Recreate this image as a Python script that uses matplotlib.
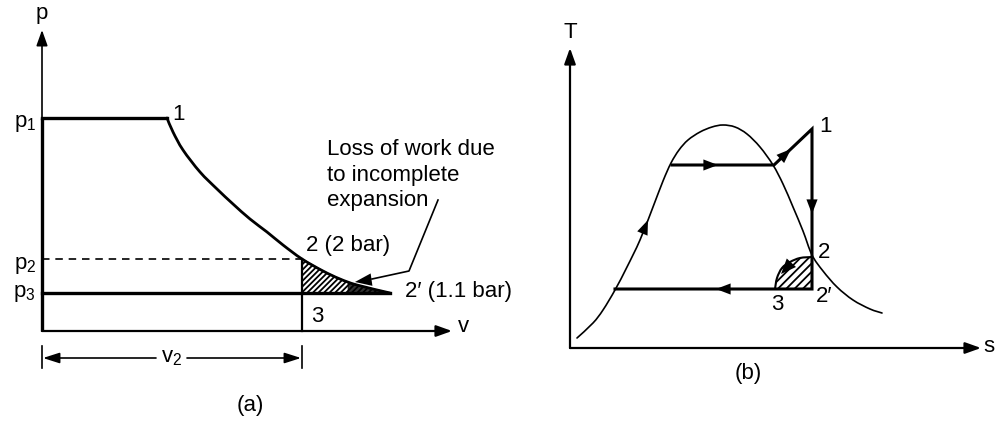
import matplotlib
matplotlib.use("Agg")
import matplotlib.pyplot as plt
from matplotlib.patches import Polygon, PathPatch
from matplotlib.path import Path

plt.rcParams['font.family'] = ['Liberation Sans', 'DejaVu Sans']
plt.rcParams['mathtext.fontset'] = 'custom'
plt.rcParams['mathtext.rm'] = 'Liberation Sans'
plt.rcParams['mathtext.it'] = 'Liberation Sans'
plt.rcParams['hatch.linewidth'] = 1.3

FS = 16

# ---------------- (a) p-v diagram, drawing units ----------------
pv_origin = (42, 331)          # corner of p and v axes
pv_axis_top = 30
pv_axis_right = 452
p1_y, p2_y, p3_y = 118, 259, 293
v1_x, v2_x, v2p_x = 167, 302, 390
# expansion line 1 -> 2 -> 2'
exp_x = [167, 173, 183, 200, 217, 233, 250, 267, 283, 302, 323, 340, 357, 390]
exp_y = [118, 132, 150, 172, 189, 204, 219, 232, 245, 259, 271, 279, 285, 293]

# ---------------- (b) T-s diagram, drawing units ----------------
ts_origin = (570, 348)
ts_axis_top = 48
ts_axis_right = 981
dome_x = [577, 593, 603, 615, 627, 640, 653, 663, 671, 679, 688, 700, 712,
          723, 735, 747, 760, 773, 783, 793, 803, 812, 823, 837, 853, 870, 882]
dome_y = [338, 323, 310, 290, 267, 240, 207, 181, 163, 150, 140, 132, 127,
          125, 127, 134, 147, 165, 184, 207, 231, 255, 271, 287, 300, 309, 313]
evap_y = 165
evap_x0, evap_x1 = 672, 774
pt1 = (812, 129)
pt2 = (812, 257)
pt2p = (812, 289)
cond_x0 = 615
pt3 = (775, 289)
arc_x = [775, 777, 782, 790, 800, 812]
arc_y = [289, 278, 268, 262, 258, 257]

fig = plt.figure(figsize=(9.97, 4.21), dpi=100)
ax = fig.add_axes([0, 0, 1, 1])
ax.set_xlim(0, 997)
ax.set_ylim(421, 0)
ax.axis('off')

K = 'black'


def smooth_path(xs, ys):
    """Cubic Bezier path passing through every given point (Catmull-Rom)."""
    pts = list(zip(xs, ys))
    verts = [pts[0]]
    codes = [Path.MOVETO]
    n = len(pts)
    for i in range(n - 1):
        p0 = pts[i - 1] if i > 0 else pts[i]
        p1, p2 = pts[i], pts[i + 1]
        p3 = pts[i + 2] if i + 2 < n else pts[i + 1]
        c1 = (p1[0] + (p2[0] - p0[0]) / 6, p1[1] + (p2[1] - p0[1]) / 6)
        c2 = (p2[0] - (p3[0] - p1[0]) / 6, p2[1] - (p3[1] - p1[1]) / 6)
        verts += [c1, c2, p2]
        codes += [Path.CURVE4] * 3
    return verts, codes


def smooth_line(xs, ys, lw):
    v, c = smooth_path(xs, ys)
    ax.add_patch(PathPatch(Path(v, c), facecolor='none', edgecolor=K, lw=lw,
                           capstyle='round'))


def axis_arrow(x0, y0, x1, y1, lw=1.3):
    ax.annotate('', xy=(x1, y1), xytext=(x0, y0),
                arrowprops=dict(arrowstyle='-|>,head_length=0.95,head_width=0.34',
                                color=K, lw=lw, shrinkA=0, shrinkB=0))


def mid_arrow(tail, tip, hl=1.05, hw=0.4):
    ax.annotate('', xy=tip, xytext=tail,
                arrowprops=dict(arrowstyle='-|>,head_length=%g,head_width=%g' % (hl, hw),
                                color=K, lw=0.01, shrinkA=0, shrinkB=0))


# ---- (a) ----
ox, oy = pv_origin
axis_arrow(ox, oy, ox, pv_axis_top, lw=1.2)
axis_arrow(ox, oy, pv_axis_right, oy, lw=1.6)
ax.plot([ox, ox], [p1_y, oy], color=K, lw=2.4, solid_capstyle='butt')
ax.plot([ox, v1_x], [p1_y, p1_y], color=K, lw=2.4)
smooth_line(exp_x, exp_y, 2.0)
ax.plot([ox, v2_x], [p2_y, p2_y], color=K, lw=1.2, ls=(0, (4.5, 3.5)))
ax.plot([ox, v2p_x], [p3_y, p3_y], color=K, lw=2.4)
ax.plot([v2_x, v2_x], [p2_y, oy], color=K, lw=1.6)

# lost-work area between 2, 2' and 3
i2 = exp_x.index(v2_x)
lv, lc = smooth_path(exp_x[i2:], exp_y[i2:])
lv += [(v2_x, p3_y), (v2_x, p2_y)]
lc += [Path.LINETO, Path.CLOSEPOLY]
ax.add_patch(PathPatch(Path(lv, lc), facecolor='none', edgecolor=K,
                       hatch='//////', lw=1.0))
ax.add_patch(Polygon([(348, 282), (357, 285), (390, 293), (348, 293)], closed=True,
                     facecolor=K, edgecolor=K, lw=0.5, alpha=0.8))

# v2 dimension
for xx in (ox, v2_x):
    ax.plot([xx, xx], [346, 368], color=K, lw=1.2)
ax.annotate('', xy=(ox + 1, 358), xytext=(156, 358),
            arrowprops=dict(arrowstyle='-|>,head_length=1.0,head_width=0.32',
                            color=K, lw=1.2, shrinkA=0, shrinkB=0))
ax.annotate('', xy=(v2_x - 1, 358), xytext=(187, 358),
            arrowprops=dict(arrowstyle='-|>,head_length=1.0,head_width=0.32',
                            color=K, lw=1.2, shrinkA=0, shrinkB=0))
ax.text(172, 358, r'$\mathrm{v_2}$', fontsize=FS, ha='center', va='center')

# leader for the loss annotation
ax.plot([438, 409, 372], [200, 271, 279], color=K, lw=1.2)
mid_arrow((376, 279), (355, 282), hl=1.2, hw=0.45)

ax.text(42, 14, 'p', fontsize=FS, ha='center', va='center')
ax.text(36, 124, r'$\mathrm{p_1}$', fontsize=FS, ha='right', va='center')
ax.text(36, 265, r'$\mathrm{p_2}$', fontsize=FS, ha='right', va='center')
ax.text(36, 294, r'$\mathrm{p_3}$', fontsize=FS, ha='right', va='center')
ax.text(172, 115, '1', fontsize=FS, ha='left', va='center')
ax.text(306, 245, '2 (2 bar)', fontsize=FS, ha='left', va='center')
ax.text(405, 292, '2\u2032 (1.1 bar)', fontsize=FS, ha='left', va='center')
ax.text(311, 316, '3', fontsize=FS, ha='left', va='center')
ax.text(458, 326, 'v', fontsize=FS, ha='left', va='center')
ax.text(327, 175, 'Loss of work due\nto incomplete\nexpansion', fontsize=FS,
        ha='left', va='center', linespacing=1.3)
ax.text(250, 406, '(a)', fontsize=FS, ha='center', va='center')

# ---- (b) ----
sx, sy = ts_origin
axis_arrow(sx, sy, sx, ts_axis_top, lw=1.6)
axis_arrow(sx, sy, ts_axis_right, sy, lw=1.6)
smooth_line(dome_x, dome_y, 1.2)
ax.plot([evap_x0, evap_x1, pt1[0], pt2p[0], cond_x0],
        [evap_y, evap_y, pt1[1], pt2p[1], pt2p[1]], color=K, lw=2.2,
        solid_joinstyle='miter')
smooth_line(arc_x, arc_y, 1.5)
av, ac = smooth_path(arc_x, arc_y)
av += [pt2p, (arc_x[0], arc_y[0])]
ac += [Path.LINETO, Path.CLOSEPOLY]
ax.add_patch(PathPatch(Path(av, ac), facecolor='none', edgecolor=K,
                       hatch='////', lw=0))

# flow arrows
mid_arrow((700, evap_y), (718, evap_y))
mid_arrow((776, 163), (791, 149))
mid_arrow((pt1[0], 193), (pt1[0], 214))
mid_arrow((737, pt2p[1]), (716, pt2p[1]))
mid_arrow((638, 244), (648, 220))
mid_arrow((793, 261), (781, 274), hl=1.1, hw=0.45)

ax.text(sx, 33, 'T', fontsize=FS, ha='center', va='center')
ax.text(983, 346, 's', fontsize=FS, ha='left', va='center')
ax.text(819, 126, '1', fontsize=FS, ha='left', va='center')
ax.text(818, 252, '2', fontsize=FS, ha='left', va='center')
ax.text(816, 296, '2\u2032', fontsize=FS, ha='left', va='center')
ax.text(777, 304, '3', fontsize=FS, ha='center', va='center')
ax.text(748, 373, '(b)', fontsize=FS, ha='center', va='center')

fig.savefig('out.png', dpi=100)
